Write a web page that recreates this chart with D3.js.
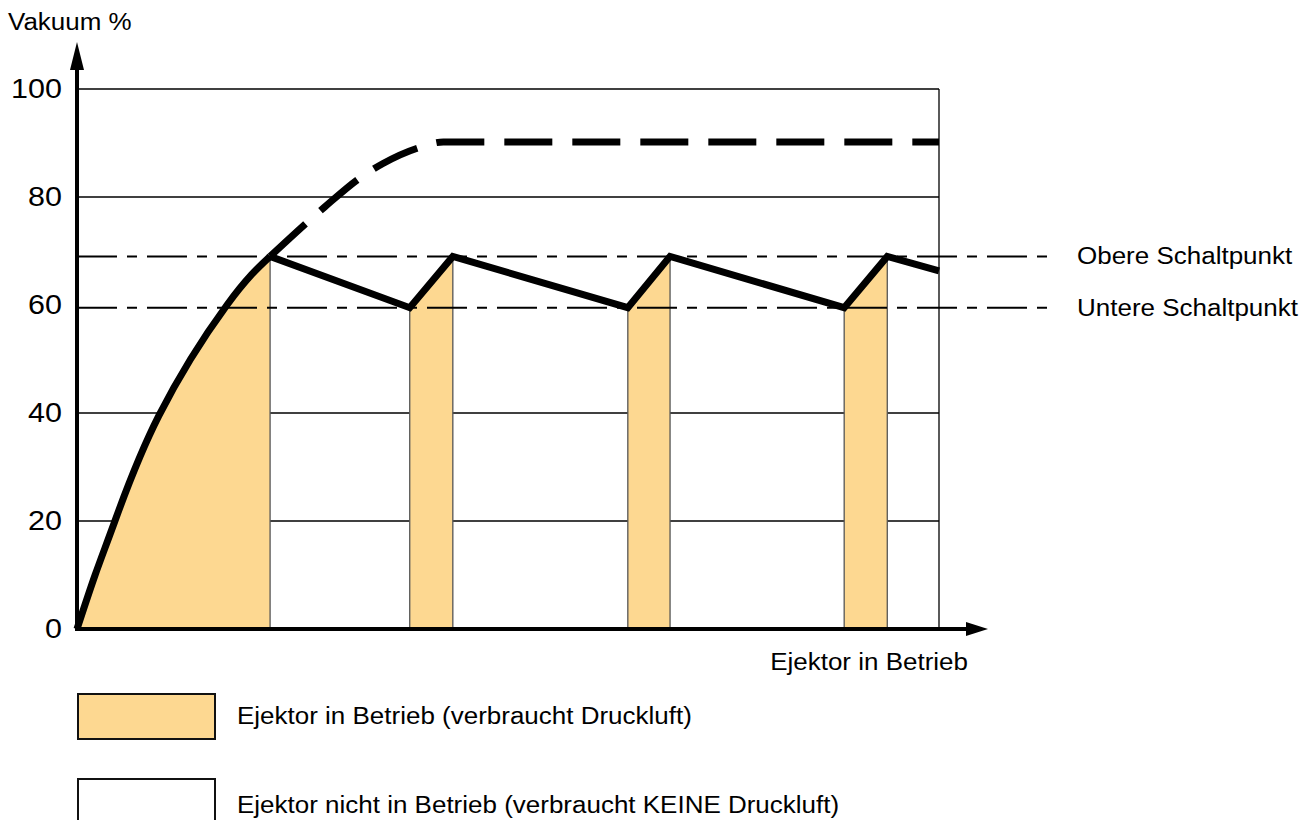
<!DOCTYPE html>
<html>
<head>
<meta charset="utf-8">
<script src="https://cdn.jsdelivr.net/npm/d3@7/dist/d3.min.js"></script>
<style>
  body { margin: 0; background: #fff; }
  svg { font-family: "Liberation Sans", Arial, Helvetica, sans-serif; }
</style>
</head>
<body>
<svg width="1311" height="820"></svg>
<script>
var svg = d3.select("svg");

// ticks and labels
const y_ticks = [0, 20, 40, 60, 80, 100];
const grid_values = [20, 40, 80, 100];
const upper_switch = 69;
const lower_switch = 59.5;

// rising curve while ejector starts (time, vakuum)
const rise_t = [0, 2.1, 4.4, 9.5, 17.4, 22.4];
const rise_v = [0, 10, 20, 39.5, 60, 69];

// dashed curve: vakuum without switching
const free_t = [22.4, 28.7, 32.8, 35.5, 39.8, 42.5, 100];
const free_v = [69, 78.1, 83.5, 86.2, 89.2, 90.2, 90.2];

// saw tooth after reaching upper switch point
const saw_t = [22.4, 38.6, 43.6, 63.9, 68.8, 89.0, 94.0, 100];
const saw_v = [69, 59.5, 69, 59.5, 69, 59.5, 69, 66.3];

// intervals where ejector is running
const on_start = [0, 38.6, 63.9, 89.0];
const on_end = [22.4, 43.6, 68.8, 94.0];

const legend_labels = ["Ejektor in Betrieb (verbraucht Druckluft)", "Ejektor nicht in Betrieb (verbraucht KEINE Druckluft)"];
const fill_color = "#fdd891";
const stretch = 1.13; // text in the original is a bit wider than Arial

var x = d3.scaleLinear().domain([0, 100]).range([77, 939]);
var y = d3.scaleLinear().domain([0, 100]).range([629, 89]);

const g = svg.append("g");

// grid lines
g.selectAll(".grid").data(grid_values).enter()
	.append("line")
	.attr("x1", x(0)).attr("x2", x(100))
	.attr("y1", d => y(d)).attr("y2", d => y(d))
	.attr("stroke", "#000").attr("stroke-width", 1.5);

g.append("line")
	.attr("x1", x(100)).attr("x2", x(100))
	.attr("y1", y(0)).attr("y2", y(100))
	.attr("stroke", "#000").attr("stroke-width", 1.3);

// point lists
var rise = rise_t.map((t, i) => [t, rise_v[i]]);
var free = free_t.map((t, i) => [t, free_v[i]]);
var saw = saw_t.map((t, i) => [t, saw_v[i]]);

function value_at(pts, t) {
	for (let i = 1; i < pts.length; i++) {
		if (t <= pts[i][0]) {
			let a = pts[i-1], b = pts[i];
			return a[1] + (b[1] - a[1]) * (t - a[0]) / (b[0] - a[0]);
		}
	}
	return pts[pts.length-1][1];
}

// filled areas
var area = d3.area().x(d => x(d[0])).y0(y(0)).y1(d => y(d[1]));
g.append("path")
	.datum(rise)
	.attr("d", area.curve(d3.curveNatural))
	.attr("fill", fill_color);

on_start.slice(1).forEach(function(s, i) {
	let e = on_end[i+1];
	let pts = [[s, value_at(saw, s)], [e, value_at(saw, e)]];
	g.append("path")
		.datum(pts)
		.attr("d", d3.area().x(d => x(d[0])).y0(y(0)).y1(d => y(d[1])))
		.attr("fill", fill_color);
});

// thin edges of the running intervals
var edges = on_start.slice(1).concat(on_end);
g.selectAll(".edge").data(edges).enter()
	.append("line")
	.attr("x1", d => x(d)).attr("x2", d => x(d))
	.attr("y1", y(0))
	.attr("y2", d => y(d == on_end[0] ? upper_switch : value_at(saw, d)))
	.attr("stroke", "#555").attr("stroke-width", 1.3);

// switch points
[upper_switch, lower_switch].forEach(function(v) {
	g.append("line")
		.attr("x1", x(0)).attr("x2", 1055)
		.attr("y1", y(v)).attr("y2", y(v))
		.attr("stroke", "#000").attr("stroke-width", 2)
		.attr("stroke-dasharray", "40,10,10,10");
});

// curves
g.append("path")
	.datum(free)
	.attr("d", d3.line().x(d => x(d[0])).y(d => y(d[1])).curve(d3.curveMonotoneX))
	.attr("fill", "none").attr("stroke", "#000").attr("stroke-width", 7)
	.attr("stroke-dasharray", "48,20");

g.append("path")
	.datum(rise)
	.attr("d", d3.line().x(d => x(d[0])).y(d => y(d[1])).curve(d3.curveNatural))
	.attr("fill", "none").attr("stroke", "#000").attr("stroke-width", 7)
	.attr("stroke-linejoin", "miter");

g.append("path")
	.datum(saw)
	.attr("d", d3.line().x(d => x(d[0])).y(d => y(d[1])))
	.attr("fill", "none").attr("stroke", "#000").attr("stroke-width", 7)
	.attr("stroke-linejoin", "miter");

// axes
g.append("line")
	.attr("x1", x(0)).attr("x2", 966)
	.attr("y1", y(0)).attr("y2", y(0))
	.attr("stroke", "#000").attr("stroke-width", 4);
g.append("path")
	.attr("d", "M966,622 L988,629 L966,636 Z")
	.attr("fill", "#000");
g.append("line")
	.attr("x1", x(0)).attr("x2", x(0))
	.attr("y1", y(0) + 2).attr("y2", 68)
	.attr("stroke", "#000").attr("stroke-width", 4);
g.append("path")
	.attr("d", "M70,70 L77,42 L84,70 Z")
	.attr("fill", "#000");

var yAxis = d3.axisLeft(y).tickValues(y_ticks).tickSize(0).tickPadding(0);
svg.append("g")
	.attr("transform", "translate(" + (x(0) - 15) + ",0)")
	.call(yAxis)
	.call(a => a.select(".domain").remove())
	.selectAll("text")
	.attr("font-size", 27)
	.attr("font-family", "Liberation Sans, Arial, sans-serif")
	.attr("fill", "#000")
	.attr("transform", "scale(" + stretch + ",1)");

// stretched label helper
function label(px, py, txt, size, anchor) {
	return svg.append("text")
		.attr("transform", "translate(" + px + "," + py + ") scale(" + stretch + ",1)")
		.attr("dy", "0.35em")
		.attr("text-anchor", anchor || "start")
		.attr("font-size", size)
		.text(txt);
}

label(8, 22, "Vakuum %", 23);
label(968, 662, "Ejektor in Betrieb", 23, "end");
label(1077, y(upper_switch), "Obere Schaltpunkt", 23);
label(1077, y(lower_switch), "Untere Schaltpunkt", 23);

// legend
legend_labels.forEach(function(d, i) {
	svg.append("rect")
		.attr("x", 78).attr("y", 694 + i * 85).attr("width", 137).attr("height", 45)
		.attr("fill", i == 0 ? fill_color : "#fff")
		.attr("stroke", "#111").attr("stroke-width", 2);
	label(237, 716 + i * 89, d, 23);
});
</script>
</body>
</html>
